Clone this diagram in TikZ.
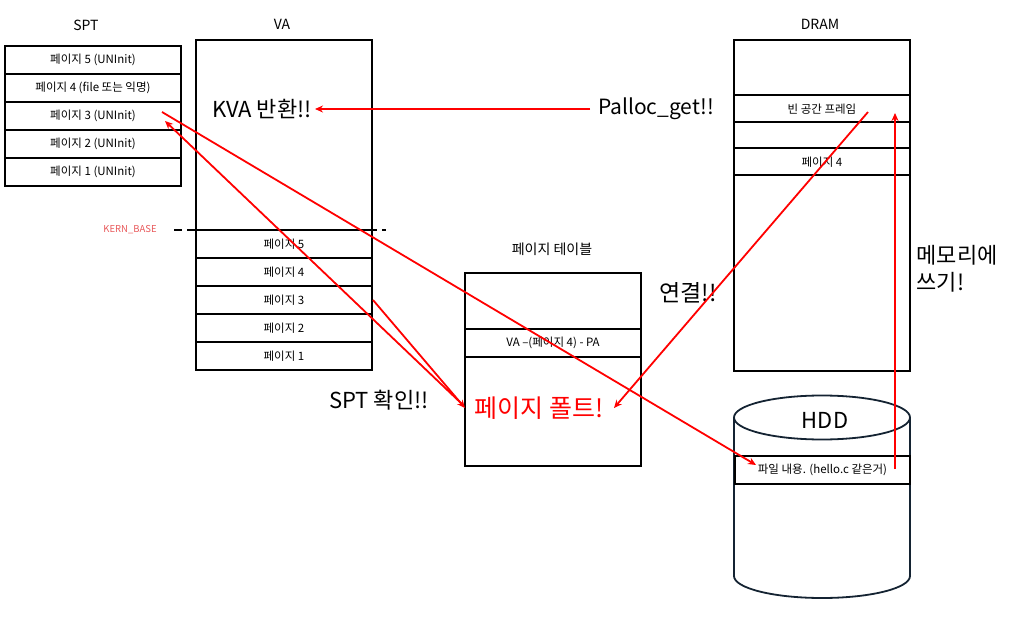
\documentclass[tikz,border=0pt]{standalone}
\usepackage{fontspec}
\setmainfont{Noto Sans CJK KR}
\usetikzlibrary{arrows.meta}
\definecolor{kern}{RGB}{232,88,90}
\definecolor{hddc}{RGB}{20,35,50}
\begin{document}
\begin{tikzpicture}[x=1pt,y=-1pt,
  ttl/.style={font=\fontsize{14}{16}\selectfont},
  smalltxt/.style={font=\fontsize{11.5}{13}\selectfont},
  bigtxt/.style={font=\fontsize{22}{25}\selectfont},
  cell/.style={draw, line width=2pt, inner sep=0pt, smalltxt},
  redarrow/.style={draw=red, line width=1.8pt, -{Stealth[length=8pt,width=7pt]}}]
\useasboundingbox (0,0) rectangle (1022,617);

% ---------- SPT ----------
\node[ttl] (spttitle) at (86,25) {SPT};
\foreach \i/\t/\y in {5/페이지 5 (UNInit)/60, 4/페이지 4 (file 또는 익명)/88, 3/페이지 3 (UNInit)/116, 2/페이지 2 (UNInit)/144, 1/페이지 1 (UNInit)/172}
  \node[cell, minimum width=176pt, minimum height=28pt] (spt\i) at (93,\y) {\t};

% ---------- VA ----------
\node[ttl] (vatitle) at (282,24) {VA};
\draw[line width=2pt, dash pattern=on 8pt off 5pt] (174,230) -- (386,230);
\node[cell, minimum width=176pt, minimum height=190pt] (vatop) at (284,135) {};
\node[bigtxt] (kva) at (262,109) {KVA 반환!!};
\foreach \i/\y in {5/244, 4/272, 3/300, 2/328, 1/356}
  \node[cell, minimum width=176pt, minimum height=28pt] (va\i) at (284,\y) {페이지 \i};
\node[font=\fontsize{9.5}{11}\selectfont, text=kern] (kern) at (130,230) {KERN\_BASE};

% ---------- Page table ----------
\node[font=\fontsize{14}{16}\selectfont] (pttitle) at (552,249) {페이지 테이블};
\node[cell, minimum width=176pt, minimum height=56pt] (pt1) at (553,301) {};
\node[cell, minimum width=176pt, minimum height=28pt] (pt2) at (553,343) {VA –(페이지 4) - PA};
\node[cell, minimum width=176pt, minimum height=109pt] (pt3) at (553,411.5) {};
\node[font=\fontsize{25}{28}\selectfont, text=red] (pf) at (539,408) {페이지 폴트!};

% ---------- DRAM ----------
\node[ttl] (dramtitle) at (820,24) {DRAM};
\node[cell, minimum width=176pt, minimum height=55pt] (d1) at (822,67.5) {};
\node[cell, minimum width=176pt, minimum height=27.5pt] (d2) at (822,108.75) {빈 공간 프레임};
\node[cell, minimum width=176pt, minimum height=25.5pt] (d3) at (822,135.25) {};
\node[cell, minimum width=176pt, minimum height=27.5pt] (d4) at (822,161.75) {페이지 4};
\node[cell, minimum width=176pt, minimum height=195pt] (d5) at (822,273) {};

% ---------- HDD ----------
\draw[hddc, line width=1.8pt] (734,417.5) -- (734,576) arc[start angle=180, end angle=0, x radius=88, y radius=22] -- (910,417.5);
\draw[hddc, line width=1.8pt] (822,417.5) ellipse [x radius=88, y radius=22];
\node[bigtxt] (hdd) at (825,420) {HDD};
\node[cell, minimum width=175pt, minimum height=28pt] (file) at (822.5,470) {파일 내용. (hello.c 같은거)};

% ---------- labels ----------
\node[bigtxt, font=\fontsize{21}{24}\selectfont] (palloc) at (656,109) {Palloc\_get!!};
\node[bigtxt] (sptchk) at (379,400) {SPT 확인!!};
\node[bigtxt, font=\fontsize{23}{26}\selectfont] (conn) at (688,293) {연결!!};
\node[bigtxt, font=\fontsize{22}{27}\selectfont, align=left, anchor=west] (memw) at (913,269) {메모리에\\쓰기!};

% ---------- endpoints ----------
\coordinate (pallocL) at (590,109);
\coordinate (kvaR) at (315,109);
\coordinate (pfL) at (465,408);
\coordinate (pfLs) at (463,405);
\coordinate (spt3a) at (162,112);
\coordinate (spt3b) at (165,121);
\coordinate (fileL) at (756,465);
\coordinate (freeR) at (868,112);
\coordinate (pfR) at (614,408);
\coordinate (fileR) at (895,469);
\coordinate (freeUp) at (895,113);

% ---------- connectors ----------
\draw[redarrow] (pallocL) -- (kvaR);
\draw[redarrow] (va3.east) -- (pfL);
\draw[redarrow] (pfLs) -- (spt3b);
\draw[redarrow] (spt3a) -- (fileL);
\draw[redarrow] (freeR) -- (pfR);
\draw[redarrow] (fileR) -- (freeUp);
\end{tikzpicture}
\end{document}
